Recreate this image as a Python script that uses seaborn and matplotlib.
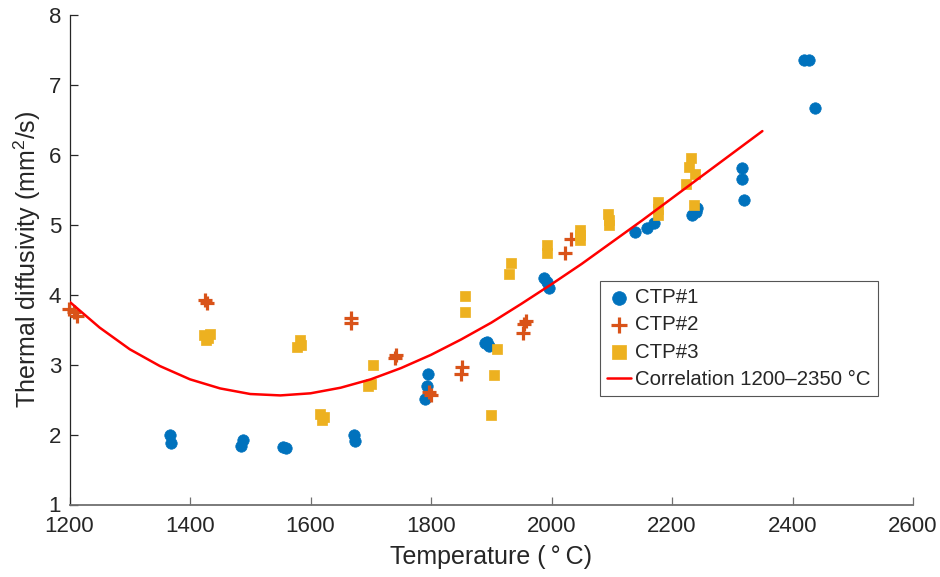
import matplotlib
matplotlib.use("Agg")
import matplotlib.pyplot as plt
from matplotlib import font_manager
import seaborn as sns
import pandas as pd

# ---- data ----
ctp1_T = [1367, 1368, 1488, 1485, 1555, 1559, 1673, 1674, 1795, 1794, 1790,
          1890, 1896, 1893, 1987, 1992, 1996, 2139, 2159, 2170, 2234, 2240, 2242,
          2316, 2317, 2319, 2419, 2427, 2437]
ctp1_D = [2.00, 1.88, 1.92, 1.84, 1.82, 1.81, 2.00, 1.91, 2.86, 2.69, 2.51,
          3.31, 3.27, 3.33, 4.24, 4.18, 4.10, 4.90, 4.96, 5.03, 5.14, 5.18, 5.24,
          5.81, 5.66, 5.36, 7.35, 7.36, 6.67]

ctp2_T = [1199, 1207, 1213, 1425, 1429, 1668, 1668, 1740, 1742, 1797, 1800,
          1849, 1852, 1952, 1955, 1957, 2023, 2032]
ctp2_D = [3.80, 3.75, 3.70, 3.93, 3.88, 3.66, 3.60, 3.10, 3.14, 2.61, 2.57,
          2.86, 2.97, 3.45, 3.58, 3.63, 4.59, 4.79]

ctp3_T = [1423, 1434, 1427, 1430, 1578, 1582, 1585, 1616, 1622, 1619, 1704, 1696, 1700,
          1857, 1856, 1910, 1904, 1900, 1929, 1932, 1993, 1993, 2047, 2047, 2047,
          2094, 2095, 2095, 2177, 2177, 2177, 2224, 2228, 2232, 2238, 2236]
ctp3_D = [3.42, 3.44, 3.35, 3.38, 3.25, 3.35, 3.28, 2.30, 2.25, 2.21, 3.00, 2.70, 2.73,
          3.98, 3.75, 3.23, 2.85, 2.28, 4.30, 4.45, 4.71, 4.59, 4.92, 4.85, 4.78,
          5.16, 5.07, 4.99, 5.33, 5.22, 5.14, 5.59, 5.83, 5.95, 5.73, 5.29]

corr_T = [1200, 1250, 1300, 1350, 1400, 1450, 1500, 1550, 1600, 1650, 1700, 1750,
          1800, 1850, 1900, 1950, 2000, 2050, 2100, 2150, 2200, 2250, 2300, 2350]
corr_D = [3.90, 3.53, 3.22, 2.98, 2.79, 2.66, 2.58, 2.56, 2.59, 2.67, 2.79, 2.95,
          3.14, 3.36, 3.60, 3.87, 4.15, 4.44, 4.75, 5.06, 5.38, 5.70, 6.02, 6.34]

x_ticks = [1200, 1400, 1600, 1800, 2000, 2200, 2400, 2600]
y_ticks = [1, 2, 3, 4, 5, 6, 7, 8]

labels = ["CTP#1", "CTP#2", "CTP#3", "Correlation 1200\u20132350 \u00b0C"]

# ---- style ----
sns.set_theme(style="white")
avail = {f.name for f in font_manager.fontManager.ttflist}
base = "Liberation Sans" if "Liberation Sans" in avail else "DejaVu Sans"
plt.rcParams["font.family"] = [base, "DejaVu Sans"]
plt.rcParams["mathtext.fontset"] = "custom"
plt.rcParams["mathtext.rm"] = base

c1, c2, c3, cr = "#0072BD", "#D95319", "#EDB120", "#FF0000"
txt = "#262626"

fig = plt.figure(figsize=(9.4, 5.77), dpi=100)
ax = fig.add_axes([69.5 / 940, 1 - 504.5 / 577, (913 - 69.5) / 940, (504.5 - 15) / 577])

df1 = pd.DataFrame({"T": ctp1_T, "D": ctp1_D})
df2 = pd.DataFrame({"T": ctp2_T, "D": ctp2_D})
df3 = pd.DataFrame({"T": ctp3_T, "D": ctp3_D})
dfc = pd.DataFrame({"T": corr_T, "D": corr_D})

sns.scatterplot(data=df1, x="T", y="D", ax=ax, marker="o", s=68, color=c1,
                edgecolor=c1, linewidth=0.5, label=labels[0], clip_on=False, zorder=3)
sns.scatterplot(data=df2, x="T", y="D", ax=ax, marker="+", s=95, color=c2,
                linewidth=2.3, label=labels[1], clip_on=False, zorder=3)
sns.scatterplot(data=df3, x="T", y="D", ax=ax, marker="s", s=62, color=c3,
                edgecolor=c3, linewidth=0.5, label=labels[2], clip_on=False, zorder=3)
sns.lineplot(data=dfc, x="T", y="D", ax=ax, color=cr, linewidth=1.8,
             label=labels[3], zorder=4)

ax.set_xlim(1200, 2600)
ax.set_ylim(1, 8)
ax.set_xticks(x_ticks)
ax.set_yticks(y_ticks)
ax.set_xticklabels([str(t) for t in x_ticks], fontsize=16, color=txt)
ax.set_yticklabels([str(t) for t in y_ticks], fontsize=16, color=txt)
ax.tick_params(axis="x", direction="in", length=6, width=0.9, color="#707070", pad=8,
               bottom=True)
ax.tick_params(axis="y", direction="in", length=6, width=0.9, color=txt, pad=6,
               left=True)
for side in ["top", "right"]:
    ax.spines[side].set_visible(False)
ax.spines["left"].set_color(txt)
ax.spines["left"].set_linewidth(0.9)
ax.spines["bottom"].set_color("#707070")
ax.spines["bottom"].set_linewidth(1.3)

ax.set_xlabel("Temperature (\u2009\u00b0\u2009C)", fontsize=18, color=txt, labelpad=6)
ax.set_ylabel("Thermal diffusivity (mm$^2$/s)", fontsize=18, color=txt, labelpad=4)

leg = ax.legend(loc="upper left", bbox_to_anchor=(0.6285, 0.4565), fontsize=14.7,
                frameon=True, fancybox=False, framealpha=1, edgecolor="#555555",
                borderpad=0.35, labelspacing=0.4, handlelength=1.2, handletextpad=0.2,
                borderaxespad=0, markerscale=1.2)
leg.get_frame().set_linewidth(0.8)

fig.savefig("out.png", dpi=100)
